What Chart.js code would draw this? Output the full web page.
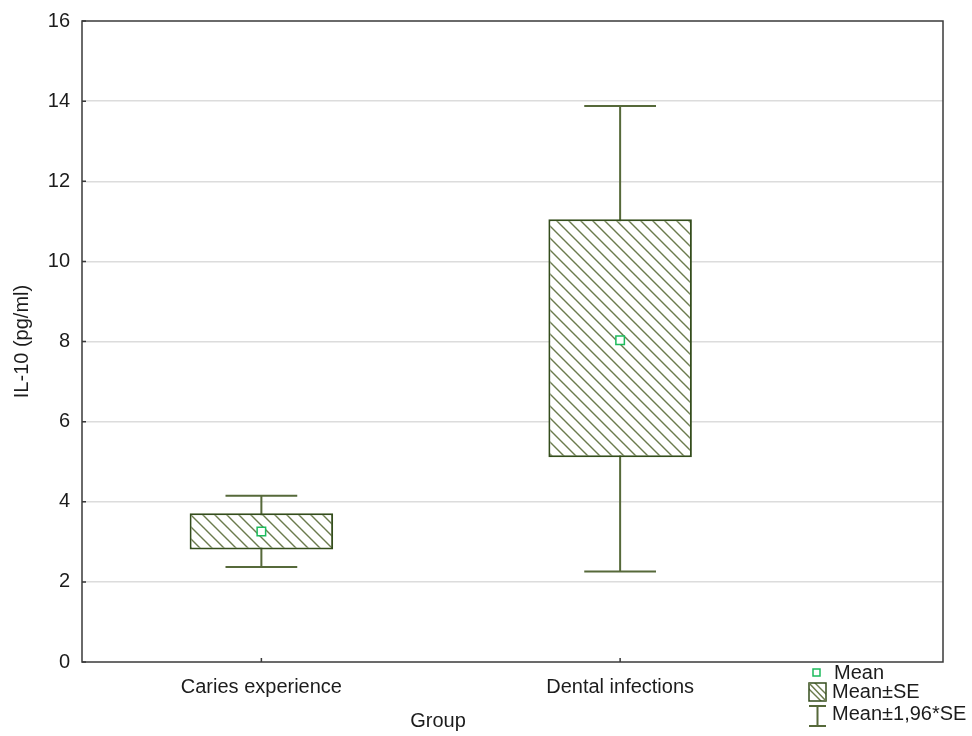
<!DOCTYPE html>
<html>
<head>
<meta charset="utf-8">
<title>IL-10 by group</title>
<script src="https://cdn.jsdelivr.net/npm/chart.js@4"></script>
<style>
  html, body { margin: 0; padding: 0; background: #fff; }
  #wrap { width: 972px; height: 736px; }
</style>
</head>
<body>
<div id="wrap"><canvas id="il10-chart" width="972" height="736"></canvas></div>
<script>

/**
 * IL-10 (pg/ml) - Mean, Mean±SE, Mean±1,96*SE
 */

const categories = ["Caries experience", "Dental infections"];

const groupPos = [1, 2];

const means = [3.26, 8.03];

const seLow = [2.81, 5.11];
const seHigh = [3.71, 11.05];

const ciLow = [2.37, 2.26];
const ciHigh = [4.15, 13.88];

const yTicks = [0, 2, 4, 6, 8, 10, 12, 14, 16];

const legendItems = ["Mean", "Mean±SE", "Mean±1,96*SE"];


const COLORS = {
    boxEdge: "#344d1c",
    hatch: "#6b7b4d",
    whisker: "#56693a",
    mean: "#1dbb5c",
    grid: "#dcdcdc",
    axis: "#3a3a3a",
    text: "#1c1c1c"
};

const FONT = "'Liberation Sans', Arial, sans-serif";


// hatch pattern, "\" lines
function makeHatch() {

    const size = 12;
    const c = document.createElement("canvas");
    c.width = size;
    c.height = size;
    const g = c.getContext("2d");

    g.fillStyle = "#ffffff";
    g.fillRect(0, 0, size, size);

    g.strokeStyle = COLORS.hatch;
    g.lineWidth = 1.4;
    g.beginPath();
    g.moveTo(-2, -2);
    g.lineTo(size + 2, size + 2);
    g.moveTo(-2, size - 2);
    g.lineTo(2, size + 2);
    g.moveTo(size - 2, -2);
    g.lineTo(size + 2, 2);
    g.stroke();

    return g.createPattern(c, "repeat");
}


const canvas = document.getElementById("il10-chart");
const ctx = canvas.getContext("2d");

const hatch = makeHatch();


// whiskers go under the boxes
const whiskerPlugin = {

    id: "whiskers",

    beforeDatasetsDraw(chart) {

        const meta = chart.getDatasetMeta(1);
        const x = chart.scales.x;
        const y = chart.scales.y;
        const g = chart.ctx;

        g.save();
        g.strokeStyle = COLORS.whisker;
        g.lineWidth = 2;

        groupPos.forEach((p, i) => {

            const px = x.getPixelForValue(p);
            const half = meta.data[i].width / 4;
            const top = y.getPixelForValue(ciHigh[i]);
            const bot = y.getPixelForValue(ciLow[i]);

            g.beginPath();
            g.moveTo(px, top);
            g.lineTo(px, bot);
            g.moveTo(px - half, top);
            g.lineTo(px + half, top);
            g.moveTo(px - half, bot);
            g.lineTo(px + half, bot);
            g.stroke();
        });

        g.restore();
    }
};


// frame, little inner ticks, x title and legend
const framePlugin = {

    id: "frame",

    afterDraw(chart) {

        const a = chart.chartArea;
        const g = chart.ctx;
        const x = chart.scales.x;
        const y = chart.scales.y;

        g.save();

        g.strokeStyle = COLORS.axis;
        g.lineWidth = 1.5;
        g.strokeRect(a.left, a.top, a.right - a.left, a.bottom - a.top);

        g.beginPath();
        yTicks.forEach(v => {
            const py = y.getPixelForValue(v);
            g.moveTo(a.left, py);
            g.lineTo(a.left + 4, py);
        });
        groupPos.forEach(v => {
            const px = x.getPixelForValue(v);
            g.moveTo(px, a.bottom);
            g.lineTo(px, a.bottom - 4);
        });
        g.stroke();

        g.fillStyle = COLORS.text;
        g.font = "20px " + FONT;
        g.textAlign = "center";
        g.textBaseline = "middle";
        g.fillText("Group", 438, 721);

        // legend
        const lx = 808;
        const rows = [673, 692, 714];

        g.strokeStyle = COLORS.mean;
        g.lineWidth = 1.5;
        g.fillStyle = "#ffffff";
        g.fillRect(813, rows[0] - 4, 7, 7);
        g.strokeRect(813, rows[0] - 4, 7, 7);

        g.fillStyle = hatch;
        g.fillRect(lx + 1, rows[1] - 9, 17, 18);
        g.strokeStyle = COLORS.boxEdge;
        g.lineWidth = 1.5;
        g.strokeRect(lx + 1, rows[1] - 9, 17, 18);
        g.strokeStyle = COLORS.hatch;
        g.beginPath();
        g.moveTo(lx + 1, rows[1] - 9);
        g.lineTo(lx + 18, rows[1] + 9);
        g.stroke();

        g.strokeStyle = COLORS.whisker;
        g.lineWidth = 2;
        g.beginPath();
        g.moveTo(lx + 1, rows[2] - 8);
        g.lineTo(lx + 18, rows[2] - 8);
        g.moveTo(lx + 9.5, rows[2] - 8);
        g.lineTo(lx + 9.5, rows[2] + 12);
        g.moveTo(lx + 1, rows[2] + 12);
        g.lineTo(lx + 18, rows[2] + 12);
        g.stroke();

        g.fillStyle = COLORS.text;
        g.font = "20px " + FONT;
        g.textAlign = "left";
        legendItems.forEach((t, i) => {
            g.fillText(t, i === 0 ? 834 : 832, rows[i]);
        });

        g.restore();
    }
};


new Chart(ctx, {

    type: "bar",

    data: {

        datasets: [
            {
                type: "scatter",
                label: "Mean",
                data: groupPos.map((p, i) => ({ x: p, y: means[i] })),
                pointStyle: "rect",
                pointRadius: 6,
                pointBorderWidth: 1.5,
                borderColor: COLORS.mean,
                backgroundColor: "#ffffff",
                order: 0
            },
            {
                label: "Mean±SE",
                data: groupPos.map((p, i) => ({ x: p, y: [seLow[i], seHigh[i]] })),
                backgroundColor: hatch,
                borderColor: COLORS.boxEdge,
                borderWidth: 2,
                borderSkipped: false,
                barPercentage: 0.4,
                categoryPercentage: 1,
                order: 1
            }
        ]
    },

    options: {

        responsive: false,
        animation: false,

        layout: {
            padding: { top: 21, right: 29, bottom: 0, left: 0 }
        },

        plugins: {
            legend: { display: false },
            tooltip: { enabled: false }
        },

        scales: {

            x: {
                type: "linear",
                min: 0.5,
                max: 2.9,
                offset: false,
                afterBuildTicks(scale) {
                    scale.ticks = groupPos.map(v => ({ value: v }));
                },
                afterFit(scale) {
                    scale.height = 74;
                },
                grid: { display: false, drawTicks: false },
                border: { display: false },
                ticks: {
                    padding: 13,
                    color: COLORS.text,
                    font: { family: FONT, size: 20 },
                    callback: (v) => categories[groupPos.indexOf(v)] || ""
                }
            },

            y: {
                min: 0,
                max: 16,
                afterBuildTicks(scale) {
                    scale.ticks = yTicks.map(v => ({ value: v }));
                },
                afterFit(scale) {
                    scale.width = 82;
                    scale.paddingTop = 0;
                },
                grid: {
                    color: (c) => (c.tick.value === 0 || c.tick.value === 16) ? "rgba(0,0,0,0)" : COLORS.grid,
                    lineWidth: 1.5,
                    drawTicks: false
                },
                border: { display: false },
                ticks: {
                    padding: 12,
                    color: COLORS.text,
                    font: { family: FONT, size: 20, lineHeight: 1 }
                },
                title: {
                    display: true,
                    text: "IL-10 (pg/ml)",
                    color: COLORS.text,
                    font: { family: FONT, size: 20 },
                    padding: { top: 10, bottom: 0 }
                }
            }
        }
    },

    plugins: [whiskerPlugin, framePlugin]
});

</script>
</body>
</html>
